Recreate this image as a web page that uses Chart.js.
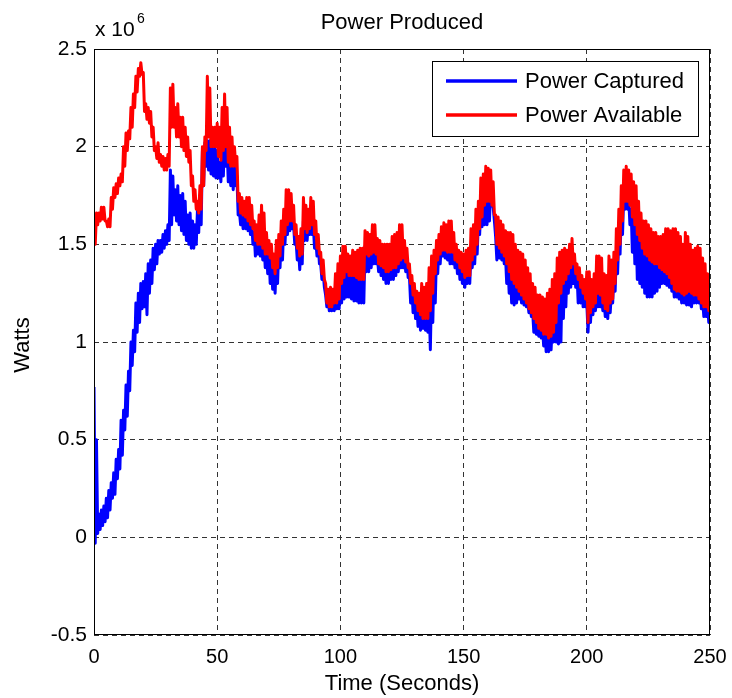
<!DOCTYPE html>
<html>
<head>
<meta charset="utf-8">
<script src="https://cdn.jsdelivr.net/npm/chart.js@4.4.1/dist/chart.umd.min.js"></script>
<style>
html,body{margin:0;padding:0;background:#fff;}
canvas{display:block;}
</style>
</head>
<body>
<canvas id="c" width="732" height="698"></canvas>
<script>
// Time axis (seconds): one reading per second; the signal oscillates quickly,
// so for every second the top and bottom of the trace were read from the picture.
const seconds = Array.from({length: 251}, (_, i) => i);

// Values in units of 10^6 W
const capturedHigh = [
0.77,0.50,0.12,0.14,0.16,0.20,0.24,0.28,0.33,0.40,
0.45,0.60,0.65,0.78,0.85,1.00,1.06,1.20,1.25,1.30,
1.31,1.35,1.40,1.42,1.48,1.50,1.52,1.52,1.55,1.57,
1.60,1.88,1.85,1.78,1.80,1.75,1.76,1.72,1.65,1.66,
1.62,1.60,1.68,1.75,1.98,2.02,2.03,2.03,2.02,2.03,
1.98,1.92,2.05,2.07,2.00,1.93,1.90,1.92,1.85,1.67,
1.68,1.68,1.66,1.64,1.62,1.56,1.54,1.54,1.52,1.50,
1.48,1.46,1.42,1.40,1.42,1.48,1.54,1.60,1.64,1.66,
1.66,1.60,1.52,1.48,1.50,1.62,1.60,1.62,1.64,1.60,
1.52,1.50,1.40,1.36,1.24,1.22,1.22,1.24,1.24,1.26,
1.34,1.37,1.40,1.38,1.38,1.38,1.37,1.36,1.36,1.36,
1.49,1.48,1.49,1.50,1.49,1.44,1.43,1.42,1.40,1.40,
1.41,1.42,1.42,1.44,1.46,1.47,1.45,1.42,1.34,1.28,
1.24,1.20,1.18,1.16,1.16,1.16,1.20,1.29,1.39,1.46,
1.49,1.51,1.51,1.50,1.50,1.50,1.46,1.45,1.42,1.40,
1.37,1.38,1.38,1.46,1.49,1.54,1.62,1.68,1.74,1.78,
1.78,1.80,1.69,1.54,1.52,1.50,1.48,1.44,1.40,1.36,
1.34,1.32,1.30,1.28,1.26,1.24,1.21,1.19,1.16,1.14,
1.11,1.10,1.08,1.08,1.06,1.07,1.09,1.14,1.24,1.29,
1.34,1.36,1.39,1.42,1.44,1.39,1.36,1.32,1.29,1.26,
1.20,1.19,1.22,1.24,1.29,1.28,1.24,1.21,1.20,1.24,
1.26,1.34,1.46,1.54,1.66,1.76,1.76,1.74,1.68,1.64,
1.59,1.56,1.52,1.49,1.48,1.46,1.45,1.44,1.44,1.42,
1.41,1.40,1.39,1.37,1.34,1.31,1.30,1.30,1.29,1.28,
1.29,1.30,1.29,1.28,1.28,1.26,1.24,1.22,1.22,1.20,
1.21
];
const capturedLow = [
-0.03,0.02,0.04,0.06,0.08,0.10,0.14,0.20,0.22,0.30,
0.35,0.42,0.55,0.62,0.75,0.88,0.95,1.05,1.10,1.17,
1.18,1.14,1.25,1.30,1.37,1.40,1.45,1.46,1.48,1.50,
1.52,1.60,1.65,1.62,1.60,1.57,1.55,1.52,1.50,1.48,
1.48,1.50,1.56,1.60,1.80,1.90,1.88,1.86,1.85,1.84,
1.84,1.82,1.85,1.90,1.82,1.80,1.78,1.80,1.65,1.60,
1.58,1.58,1.57,1.55,1.50,1.44,1.45,1.44,1.42,1.38,
1.35,1.30,1.27,1.25,1.30,1.38,1.42,1.50,1.55,1.57,
1.58,1.50,1.42,1.37,1.40,1.52,1.52,1.55,1.55,1.48,
1.44,1.40,1.32,1.28,1.18,1.16,1.16,1.16,1.17,1.17,
1.20,1.22,1.23,1.23,1.22,1.21,1.21,1.20,1.20,1.20,
1.36,1.36,1.38,1.40,1.40,1.36,1.34,1.32,1.30,1.30,
1.32,1.32,1.34,1.36,1.38,1.38,1.36,1.33,1.20,1.15,
1.12,1.08,1.06,1.07,1.06,1.05,0.96,1.10,1.20,1.35,
1.40,1.44,1.43,1.42,1.40,1.40,1.38,1.35,1.32,1.30,
1.28,1.30,1.30,1.38,1.40,1.45,1.55,1.59,1.60,1.60,
1.62,1.70,1.62,1.42,1.43,1.42,1.40,1.30,1.25,1.20,
1.19,1.20,1.22,1.20,1.19,1.18,1.15,1.13,1.05,1.04,
1.03,1.02,0.98,0.95,0.95,0.96,1.00,1.00,0.99,1.00,
1.12,1.18,1.25,1.28,1.30,1.28,1.20,1.20,1.18,1.18,
1.05,1.10,1.14,1.16,1.18,1.18,1.16,1.13,1.12,1.15,
1.20,1.26,1.35,1.45,1.55,1.68,1.68,1.60,1.46,1.40,
1.32,1.30,1.28,1.25,1.23,1.23,1.23,1.25,1.26,1.28,
1.30,1.30,1.29,1.28,1.26,1.23,1.23,1.22,1.20,1.20,
1.19,1.19,1.18,1.20,1.20,1.20,1.17,1.13,1.13,1.10,
1.08
];
const availableHigh = [
1.52,1.66,1.66,1.69,1.69,1.62,1.63,1.74,1.79,1.81,
1.84,1.86,2.00,2.07,2.08,2.20,2.27,2.36,2.40,2.43,
2.38,2.22,2.20,2.18,2.10,2.00,2.02,1.96,1.95,1.94,
1.96,2.30,2.32,2.20,2.22,2.15,2.15,2.10,2.05,1.98,
1.85,1.78,1.72,1.80,2.00,2.05,2.36,2.30,2.10,2.10,
2.12,2.10,2.20,2.27,2.20,2.10,2.05,2.00,1.95,1.76,
1.74,1.72,1.74,1.74,1.70,1.62,1.60,1.65,1.70,1.66,
1.56,1.52,1.50,1.45,1.52,1.55,1.62,1.68,1.78,1.78,
1.76,1.70,1.60,1.54,1.58,1.74,1.70,1.68,1.74,1.72,
1.62,1.55,1.46,1.42,1.30,1.27,1.28,1.27,1.35,1.40,
1.44,1.49,1.49,1.45,1.44,1.47,1.46,1.47,1.48,1.48,
1.57,1.56,1.55,1.60,1.60,1.53,1.52,1.50,1.50,1.50,
1.50,1.54,1.55,1.56,1.60,1.60,1.52,1.48,1.40,1.34,
1.30,1.26,1.25,1.30,1.28,1.30,1.38,1.44,1.47,1.52,
1.55,1.59,1.61,1.60,1.62,1.62,1.56,1.50,1.47,1.46,
1.45,1.47,1.48,1.58,1.60,1.68,1.72,1.84,1.86,1.90,
1.89,1.88,1.82,1.65,1.64,1.62,1.60,1.57,1.56,1.56,
1.55,1.50,1.47,1.46,1.45,1.42,1.38,1.35,1.30,1.28,
1.24,1.24,1.23,1.22,1.25,1.27,1.32,1.35,1.43,1.46,
1.47,1.48,1.47,1.50,1.53,1.45,1.40,1.38,1.34,1.32,
1.36,1.36,1.32,1.35,1.44,1.44,1.43,1.35,1.34,1.44,
1.42,1.46,1.58,1.68,1.80,1.88,1.90,1.88,1.86,1.82,
1.80,1.72,1.66,1.62,1.62,1.60,1.58,1.56,1.56,1.54,
1.54,1.55,1.58,1.58,1.57,1.58,1.58,1.56,1.54,1.50,
1.56,1.54,1.50,1.47,1.48,1.49,1.48,1.43,1.40,1.35,
1.30
];
const availableLow = [
1.50,1.60,1.62,1.63,1.62,1.59,1.59,1.68,1.74,1.76,
1.80,1.82,1.90,1.98,2.04,2.10,2.20,2.28,2.36,2.37,
2.18,2.14,2.12,2.05,1.98,1.94,1.92,1.90,1.88,1.88,
1.90,2.10,2.10,2.05,2.05,2.00,1.98,1.95,1.92,1.80,
1.72,1.68,1.66,1.68,1.80,1.98,2.05,2.00,2.00,2.00,
1.95,1.93,1.98,2.00,1.92,1.90,1.90,1.90,1.72,1.66,
1.65,1.64,1.62,1.60,1.58,1.52,1.50,1.50,1.48,1.45,
1.45,1.43,1.38,1.35,1.38,1.44,1.50,1.55,1.60,1.62,
1.62,1.55,1.48,1.44,1.45,1.58,1.56,1.58,1.60,1.55,
1.48,1.45,1.35,1.32,1.20,1.18,1.18,1.20,1.20,1.22,
1.30,1.33,1.36,1.34,1.34,1.34,1.33,1.32,1.32,1.32,
1.45,1.44,1.45,1.46,1.45,1.40,1.39,1.38,1.36,1.36,
1.37,1.38,1.38,1.40,1.42,1.43,1.41,1.38,1.30,1.24,
1.20,1.16,1.14,1.12,1.12,1.12,1.16,1.25,1.35,1.42,
1.45,1.47,1.47,1.46,1.46,1.46,1.42,1.41,1.38,1.36,
1.33,1.34,1.34,1.42,1.45,1.50,1.58,1.64,1.70,1.72,
1.72,1.70,1.65,1.50,1.48,1.46,1.44,1.40,1.36,1.32,
1.30,1.28,1.26,1.24,1.22,1.20,1.17,1.15,1.12,1.10,
1.07,1.06,1.04,1.04,1.02,1.03,1.05,1.10,1.20,1.25,
1.30,1.32,1.35,1.38,1.40,1.35,1.32,1.28,1.25,1.22,
1.10,1.15,1.18,1.20,1.25,1.24,1.20,1.17,1.16,1.20,
1.22,1.30,1.42,1.50,1.62,1.72,1.72,1.70,1.64,1.60,
1.55,1.52,1.48,1.45,1.44,1.42,1.41,1.40,1.40,1.38,
1.37,1.36,1.35,1.33,1.30,1.27,1.26,1.26,1.25,1.24,
1.25,1.26,1.25,1.24,1.24,1.22,1.20,1.18,1.18,1.16,
1.17
];

const xTicks = [0, 50, 100, 150, 200, 250];
const yTicks = [-0.5, 0, 0.5, 1, 1.5, 2, 2.5];
const seriesLabels = ['Power Captured', 'Power Available'];
const titleText = 'Power Produced';
const xTitle = 'Time (Seconds)';
const yTitle = 'Watts';

const FONT = '"Liberation Sans", Arial, Helvetica, sans-serif';

// each second contributes its top reading, then its bottom reading half a second later
const toTrace = (hi, lo) => seconds.flatMap((t, i) => [{x: t, y: hi[i]}, {x: t + 0.5, y: lo[i]}]);

const decor = {
  id: 'decor',
  afterDraw(chart) {
    const ctx = chart.ctx;
    const a = chart.chartArea;
    ctx.save();
    ctx.strokeStyle = '#000';
    ctx.lineWidth = 1;
    ctx.setLineDash([]);
    ctx.strokeRect(Math.round(a.left) + 0.5, Math.round(a.top) + 0.5,
                   Math.round(a.right - a.left) - 1, Math.round(a.bottom - a.top) - 1);
    ctx.fillStyle = '#000';
    ctx.font = '22px ' + FONT;
    ctx.textAlign = 'center';
    ctx.textBaseline = 'alphabetic';
    ctx.fillText(titleText, (a.left + a.right) / 2, 29);
    ctx.fillText(xTitle, (a.left + a.right) / 2, 690);
    ctx.save();
    ctx.translate(29, (a.top + a.bottom) / 2 + 3);
    ctx.rotate(-Math.PI / 2);
    ctx.fillText(yTitle, 0, 0);
    ctx.restore();
    ctx.textAlign = 'left';
    ctx.font = '21px ' + FONT;
    ctx.fillText('x 10', 95, 36);
    ctx.font = '14px ' + FONT;
    ctx.fillText('6', 137, 23);
    const lx = 432, ly = 61, lw = 266, lh = 75;
    ctx.fillStyle = '#fff';
    ctx.fillRect(lx, ly, lw, lh);
    ctx.strokeStyle = '#000';
    ctx.lineWidth = 1;
    ctx.strokeRect(lx + 0.5, ly + 0.5, lw, lh);
    const rows = [81, 115];
    chart.data.datasets.forEach((ds, i) => {
      ctx.strokeStyle = ds.borderColor;
      ctx.lineWidth = 3.5;
      ctx.beginPath();
      ctx.moveTo(446, rows[i]);
      ctx.lineTo(517, rows[i]);
      ctx.stroke();
      ctx.fillStyle = '#000';
      ctx.font = '22px ' + FONT;
      ctx.textBaseline = 'middle';
      ctx.textAlign = 'left';
      ctx.fillText(ds.label, 525, rows[i] + 1);
    });
    ctx.restore();
  }
};

new Chart(document.getElementById('c'), {
  type: 'line',
  data: {
    datasets: [
      {label: seriesLabels[0], data: toTrace(capturedHigh, capturedLow), borderColor: '#0000ff', borderWidth: 3, borderJoinStyle: 'round', pointRadius: 0, tension: 0, order: 2},
      {label: seriesLabels[1], data: toTrace(availableHigh, availableLow), borderColor: '#ff0000', borderWidth: 3, borderJoinStyle: 'round', pointRadius: 0, tension: 0, order: 1}
    ]
  },
  options: {
    responsive: false,
    animation: false,
    devicePixelRatio: 1,
    layout: {padding: {left: 0, top: 49, right: 22, bottom: 0}},
    plugins: {legend: {display: false}, tooltip: {enabled: false}, title: {display: false}},
    scales: {
      x: {
        type: 'linear', min: 0, max: 250,
        afterBuildTicks: s => { s.ticks = xTicks.map(v => ({value: v})); },
        afterFit: s => { s.height = 63; s.paddingLeft = 0; s.paddingRight = 0; },
        grid: {color: '#333', lineWidth: 1, drawTicks: false, borderDash: [5, 4]},
        border: {display: false, dash: [5, 4]},
        ticks: {color: '#000', font: {family: FONT, size: 20}, padding: 10, maxRotation: 0, autoSkip: false,
                callback: v => String(v)}
      },
      y: {
        type: 'linear', min: -0.5, max: 2.5,
        afterBuildTicks: s => { s.ticks = yTicks.map(v => ({value: v})); },
        afterFit: s => { s.width = 94; s.paddingTop = 0; s.paddingBottom = 0; },
        grid: {color: '#333', lineWidth: 1, drawTicks: false, borderDash: [5, 4]},
        border: {display: false, dash: [5, 4]},
        ticks: {color: '#000', font: {family: FONT, size: 21}, padding: 7, autoSkip: false,
                callback: v => String(v)}
      }
    }
  },
  plugins: [decor]
});
</script>
</body>
</html>
